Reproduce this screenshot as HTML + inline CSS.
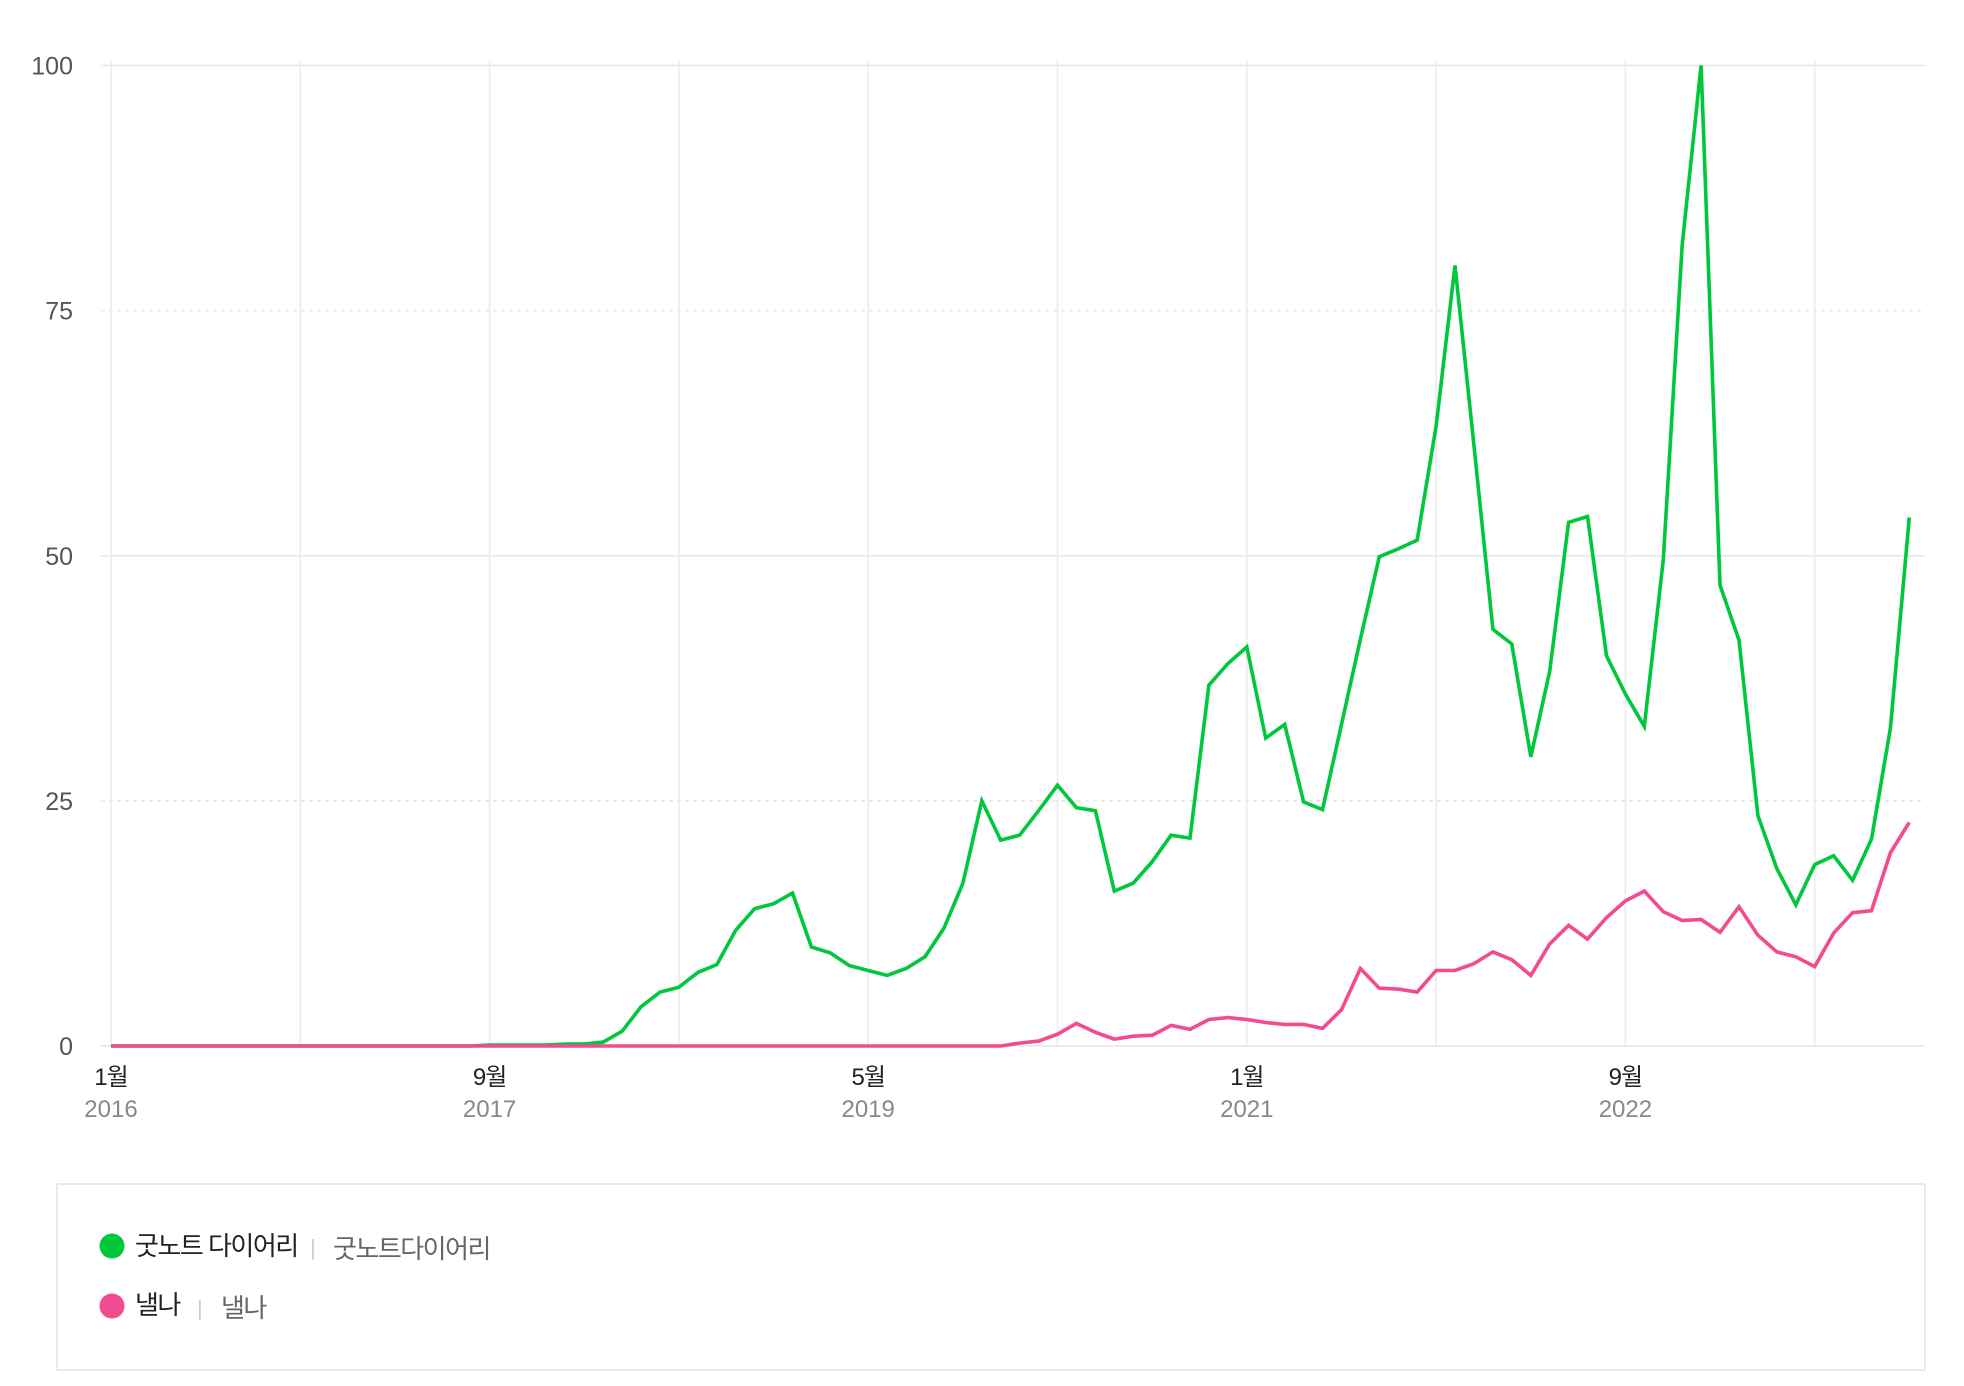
<!DOCTYPE html>
<html><head><meta charset="utf-8"><style>
html,body{margin:0;padding:0;background:#fff;}
svg{display:block;font-family:"Liberation Sans","Noto Sans CJK KR",sans-serif;}
</style></head><body>
<svg id="chart" width="1964" height="1386" viewBox="0 0 1964 1386" xmlns="http://www.w3.org/2000/svg">
<g id="grid"></g>
<g id="ylabels"></g>
<g id="xlabels"></g>
<g id="series"></g>
<g transform="translate(0,-6)">
<rect x="57" y="1190" width="1868" height="186" fill="#fff" stroke="#e4e4e4" stroke-width="1.5"/>
<g>
<circle cx="112" cy="1252" r="12.5" fill="#00c73c"/>
<text x="135" y="1261" font-size="26" fill="#222" letter-spacing="-1.5">굿노트 다이어리</text>
<text x="310" y="1261" font-size="22" fill="#ccc">|</text>
<text x="333" y="1264" font-size="26" fill="#666" letter-spacing="-1.5">굿노트다이어리</text>
</g>
<g>
<circle cx="112" cy="1312" r="12.5" fill="#f24b8f"/>
<text x="135" y="1320" font-size="26" fill="#222" letter-spacing="-1.5">낼나</text>
<text x="197" y="1322" font-size="22" fill="#ccc">|</text>
<text x="221" y="1323" font-size="26" fill="#666" letter-spacing="-1.5">낼나</text>
</g>
</g>
</svg>
<script>
const greenValues=[0,0,0,0,0,0,0,0,0,0,0,0,0,0,0,0,0,0,0,0,0.1,0.1,0.1,0.1,0.2,0.2,0.4,1.5,4,5.5,6,7.5,8.3,11.8,14,14.5,15.6,10.1,9.5,8.2,7.7,7.2,7.9,9.1,12,16.6,25,21,21.5,24,26.6,24.3,24,15.8,16.6,18.8,21.5,21.2,36.8,39,40.7,31.4,32.8,24.9,24.1,32.8,41.5,49.9,50.7,51.6,63.2,79.6,61.2,42.5,41,29.5,38.2,53.4,54,39.8,35.9,32.6,49.6,81.7,100,47,41.4,23.5,18.1,14.4,18.5,19.4,16.9,21.1,32.4,53.9];
const pinkValues=[0,0,0,0,0,0,0,0,0,0,0,0,0,0,0,0,0,0,0,0,0,0,0,0,0,0,0,0,0,0,0,0,0,0,0,0,0,0,0,0,0,0,0,0,0,0,0,0,0.3,0.5,1.2,2.3,1.4,0.7,1.0,1.1,2.1,1.7,2.7,2.9,2.7,2.4,2.2,2.2,1.8,3.7,7.9,5.9,5.8,5.5,7.7,7.7,8.4,9.6,8.8,7.2,10.4,12.3,10.9,13.1,14.8,15.8,13.7,12.8,12.9,11.6,14.2,11.3,9.6,9.1,8.1,11.5,13.6,13.8,19.7,22.8];
const yTicks=[0,25,50,75,100];
const xTickIndex=[0,20,40,60,80];
const xTickMonth=["1월","9월","5월","1월","9월"];
const xTickYear=["2016","2017","2019","2021","2022"];
const gridEvery=10;

const NS="http://www.w3.org/2000/svg";
const X0=111, DX=18.93, Y0=1046, Y100=65.5, RIGHT=1925;
const xs=i=>X0+DX*i;
const ys=v=>Y0-(Y0-Y100)*v/100;
function mk(tag,attrs,parent){const e=document.createElementNS(NS,tag);for(const k in attrs)e.setAttribute(k,attrs[k]);parent.appendChild(e);return e;}
const grid=document.getElementById('grid'),yl=document.getElementById('ylabels'),xl=document.getElementById('xlabels'),ser=document.getElementById('series');
for(let i=0;i<greenValues.length;i+=gridEvery){
  const l=mk('line',{x1:xs(i),x2:xs(i),y1:Y100-5,y2:Y0,stroke:'#ebebeb','stroke-width':1.5},grid);
  
  
}
yTicks.forEach(t=>{
  const dashed=(t===25||t===75);
  const l=mk('line',{x1:X0-10,x2:RIGHT,y1:ys(t),y2:ys(t),stroke:'#e6e6e6','stroke-width':1.5},grid);
  if(dashed)l.setAttribute('stroke-dasharray','4,4');
  
  
  const tx=mk('text',{x:73,y:ys(t)+9,'text-anchor':'end','font-size':25,fill:'#555'},yl);
  tx.textContent=t;
  
  
});
xTickIndex.forEach((idx,k)=>{
  const m=mk('text',{x:xs(idx),y:1085,'text-anchor':'middle','font-size':24,fill:'#222','letter-spacing':-1},xl);
  m.textContent=xTickMonth[k];
  
  
  const y=mk('text',{x:xs(idx),y:1117,'text-anchor':'middle','font-size':24,fill:'#888'},xl);
  y.textContent=xTickYear[k];
  
  
});
function line(vals,color,name){
  const d=vals.map((v,i)=>(i?'L':'M')+xs(i).toFixed(1)+','+ys(v).toFixed(1)).join('');
  const p=mk('path',{d:d,fill:'none',stroke:color,'stroke-width':3.6,'stroke-linejoin':'miter'},ser);
  
  
}
line(greenValues,'#00c73c','line-goodnote-diary');
line(pinkValues,'#f24b8f','line-nelna');
</script>
</body></html>
